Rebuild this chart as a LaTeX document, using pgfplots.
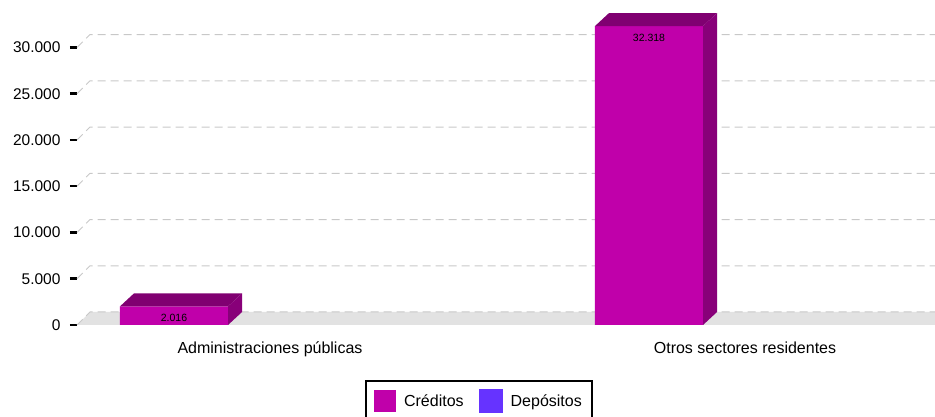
\documentclass[border=0pt]{standalone}
\usepackage{fontspec}
\setmainfont{Liberation Sans}
\usepackage{pgfplots}
\pgfplotsset{compat=1.18}
\definecolor{credc}{RGB}{192,0,170}
\definecolor{credtop}{RGB}{128,0,113}
\definecolor{credside}{RGB}{136,0,121}
\definecolor{depc}{RGB}{102,51,255}
\definecolor{gridc}{RGB}{200,200,200}
\definecolor{floorc}{RGB}{226,226,226}
\begin{document}
\begin{tikzpicture}
\begin{axis}[
  at={(77pt,92pt)}, anchor=south west,
  scale only axis, width=858pt, height=323.75pt,
  xmin=-0.40632, xmax=1.4, ymin=0, ymax=35000,
  axis line style={draw=none},
  xtick={0,1},
  xticklabels={Administraciones públicas, Otros sectores residentes},
  x tick style={draw=none},
  xticklabel style={font=\fontsize{16}{19}\selectfont, yshift=-6pt},
  ytick={0,5000,10000,15000,20000,25000,30000},
  ytick pos=left,
  y tick style={black, line width=2.5pt},
  tick align=outside, major tick length=7pt,
  yticklabel style={font=\fontsize{15.5}{18}\selectfont, xshift=-6pt},
  scaled y ticks=false,
  /pgf/number format/1000 sep={.},
  /pgf/number format/assume math mode=true,
  legend style={at={(0.4685,-0.170)}, anchor=north, legend columns=2,
    draw=black, line width=2pt, font=\fontsize{16}{19}\selectfont,
    inner xsep=8pt, inner ysep=8pt,
    /tikz/every odd column/.append style={column sep=6pt},
    /tikz/every even column/.append style={column sep=13pt}},
  clip=false,
]
% floor
\addplot[draw=none, fill=floorc, forget plot] coordinates {(-0.40632,0) (-0.3789,1405) (1.4,1405) (1.4,0)} -- cycle;
% grid lines
\addplot[gridc, line width=1pt, dash pattern=on 8pt off 5pt, forget plot] coordinates {(-0.40632,0) (-0.3789,1405) (1.4,1405)};
\addplot[gridc, line width=1pt, dash pattern=on 8pt off 5pt, forget plot] coordinates {(-0.40632,5000) (-0.3789,6405) (1.4,6405)};
\addplot[gridc, line width=1pt, dash pattern=on 8pt off 5pt, forget plot] coordinates {(-0.40632,10000) (-0.3789,11405) (1.4,11405)};
\addplot[gridc, line width=1pt, dash pattern=on 8pt off 5pt, forget plot] coordinates {(-0.40632,15000) (-0.3789,16405) (1.4,16405)};
\addplot[gridc, line width=1pt, dash pattern=on 8pt off 5pt, forget plot] coordinates {(-0.40632,20000) (-0.3789,21405) (1.4,21405)};
\addplot[gridc, line width=1pt, dash pattern=on 8pt off 5pt, forget plot] coordinates {(-0.40632,25000) (-0.3789,26405) (1.4,26405)};
\addplot[gridc, line width=1pt, dash pattern=on 8pt off 5pt, forget plot] coordinates {(-0.40632,30000) (-0.3789,31405) (1.4,31405)};
% bars: Créditos
\addplot[ybar, bar width=0.2274, bar shift=-0.2021, fill=credc, draw=none,
  legend image code/.code={\fill[credc] (0pt,-11pt) rectangle (22pt,11pt);}]
  coordinates {(0,2016) (1,32318)};
\addlegendimage{legend image code/.code={\fill[depc] (0pt,-11pt) rectangle (22pt,11pt);}}
% bars: Depósitos (all zero, nothing visible)
\addplot[ybar, bar width=0.2274, bar shift=0.2021, fill=depc, draw=none, forget plot,
  unbounded coords=discard, y filter/.expression={y==0 ? nan : y}]
  coordinates {(0,0) (1,0)};
% 3D faces
\addplot[draw=none, fill=credtop, forget plot] coordinates {(-0.3158,2016) (-0.0884,2016) (-0.0589,3421) (-0.2863,3421)} -- cycle;
\addplot[draw=none, fill=credside, forget plot] coordinates {(-0.0884,0) (-0.0884,2016) (-0.0589,3421) (-0.0589,1405)} -- cycle;
\addplot[draw=none, fill=credtop, forget plot] coordinates {(0.6842,32318) (0.9116,32318) (0.9411,33723) (0.7137,33723)} -- cycle;
\addplot[draw=none, fill=credside, forget plot] coordinates {(0.9116,0) (0.9116,32318) (0.9411,33723) (0.9411,1405)} -- cycle;
% value labels
\addplot[only marks, mark=none, forget plot, point meta=explicit symbolic,
  nodes near coords, nodes near coords style={font=\fontsize{10.5}{12}\selectfont, black, anchor=center, yshift=-11.5pt}]
  coordinates {(-0.2021,2016) [2.016] (0.7979,32318) [32.318]};
\legend{Créditos, Depósitos}
\end{axis}
\pgfresetboundingbox
\path (0,0) rectangle (935pt,417pt);
\end{tikzpicture}
\end{document}
